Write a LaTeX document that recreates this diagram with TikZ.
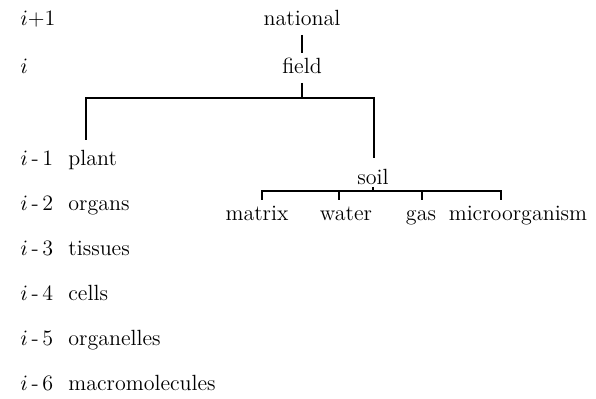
\documentclass[tikz,border=0pt]{standalone}
\begin{document}
\begin{tikzpicture}[x=0.5pt,y=-0.5pt,
  lbl/.style={font=\fontsize{11}{13}\selectfont, inner sep=0pt, anchor=base},
  lvl/.style={lbl, anchor=base west},
  con/.style={line width=0.7pt}]
\useasboundingbox (0,0) rectangle (596,399);
% level labels
\node[lvl] (l0) at (20,26) {$i$+1};
\node[lvl] (l1) at (20,74) {$i$};
\node[lvl] (m1) at (20,166) {$i$\,-\,1};
\node[lvl] (m2) at (20,211) {$i$\,-\,2};
\node[lvl] (m3) at (20,256) {$i$\,-\,3};
\node[lvl] (m4) at (20,301) {$i$\,-\,4};
\node[lvl] (m5) at (20,346) {$i$\,-\,5};
\node[lvl] (m6) at (20,391) {$i$\,-\,6};
% hierarchy
\node[lbl] (national) at (302,26) {national};
\node[lbl] (field) at (302,74) {field};
\node[lvl] (plant) at (68,166) {plant};
\node[lvl] (organs) at (68,211) {organs};
\node[lvl] (tissues) at (68,256) {tissues};
\node[lvl] (cells) at (68,301) {cells};
\node[lvl] (organelles) at (68,346) {organelles};
\node[lvl] (macro) at (68,391) {macromolecules};
\node[lbl] (soil) at (373,185) {soil};
\node[lbl] (matrix) at (257,221) {matrix};
\node[lbl] (water) at (346,221) {water};
\node[lbl] (gas) at (421,221) {gas};
\node[lbl] (micro) at (518,221) {microorganism};
% connector coordinates
\coordinate (nf1) at (302,35);
\coordinate (nf2) at (302,53);
\coordinate (fb1) at (302,83);
\coordinate (fb2) at (302,98);
\coordinate (pTop) at (86,140);
\coordinate (barR) at (374,98);
\coordinate (sTop) at (374,158);
\coordinate (sb1) at (373,187);
\coordinate (sb2) at (373,191);
\coordinate (cm) at (262,200);
\coordinate (cw) at (339,200);
\coordinate (cg) at (422,200);
\coordinate (cmi) at (501,200);
\coordinate (cmiB) at (501,191);
\draw[con] (nf1) -- (nf2);
\draw[con] (fb1) -- (fb2);
\draw[con] (pTop) |- (barR) -- (sTop);
\draw[con] (sb1) -- (sb2);
\draw[con] (cm) |- (cmiB) -- (cmi);
\draw[con] (cw) -- (cw |- cmiB);
\draw[con] (cg) -- (cg |- cmiB);
\end{tikzpicture}
\end{document}
